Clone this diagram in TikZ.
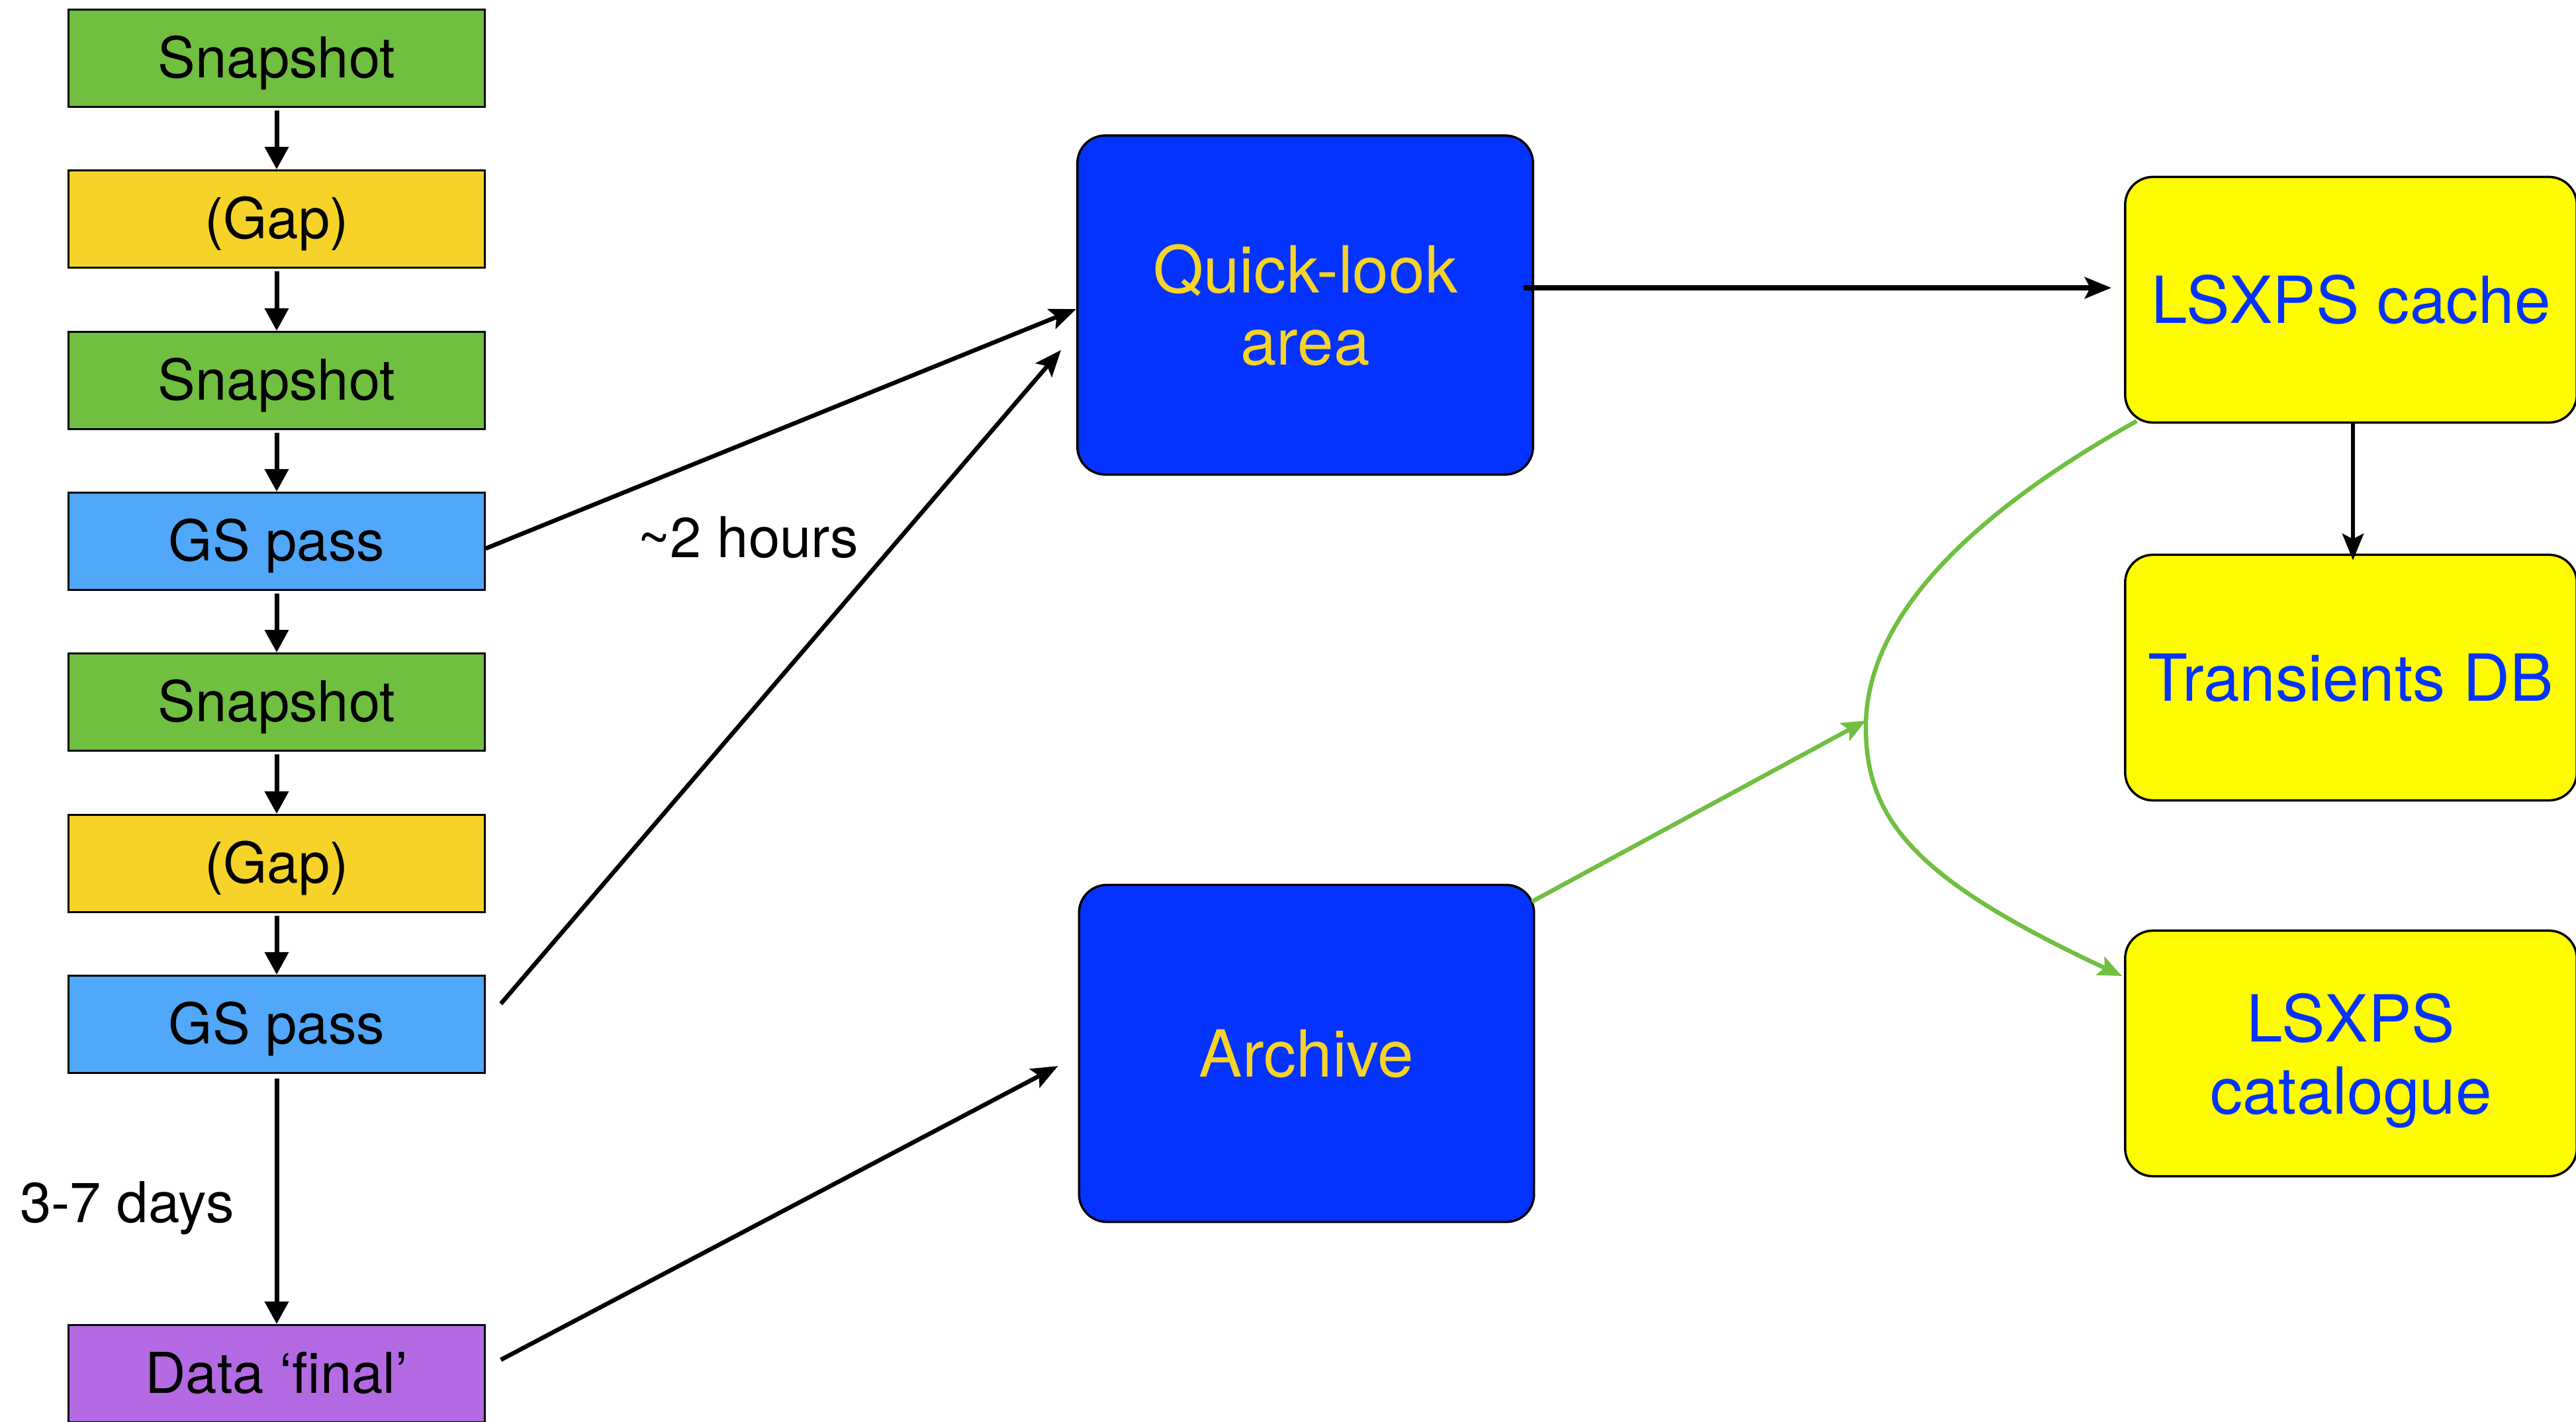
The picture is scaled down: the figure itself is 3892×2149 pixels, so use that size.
\documentclass[tikz,border=0pt]{standalone}
\usepackage{fontspec}
\setmainfont{TeX Gyre Heros}
\usetikzlibrary{arrows.meta,calc}
\definecolor{kgreen}{HTML}{70BF41}
\definecolor{kgold}{HTML}{F5D328}
\definecolor{ksky}{HTML}{51A7F9}
\definecolor{kviolet}{HTML}{B36AE2}
\definecolor{kblue}{HTML}{0433FF}
\definecolor{kyellow}{HTML}{FFFB00}
\begin{document}
\begin{tikzpicture}[x=0.01cm,y=-0.01cm,
  stagebox/.style={draw=black, line width=0.03cm, minimum width=6.28cm,
    minimum height=1.47cm, inner sep=0pt, text height=16.9pt, text depth=0pt,
    font=\fontsize{24.2pt}{29pt}\selectfont},
  storebox/.style={draw=black, line width=0.035cm, rounded corners=0.42cm,
    fill=kblue, text=kgold, align=center, inner sep=0pt,
    font=\fontsize{27.9pt}{31pt}\selectfont},
  productbox/.style={draw=black, line width=0.035cm, rounded corners=0.42cm,
    fill=kyellow, text=kblue, align=center, inner sep=0pt,
    minimum width=6.82cm, minimum height=3.71cm,
    font=\fontsize{27.9pt}{31pt}\selectfont},
  stepline/.style={-{Triangle[length=0.34cm,width=0.35cm]}, line width=0.07cm,
    shorten <=0.04cm},
  feedline/.style={-{Stealth[length=0.4cm,width=0.32cm,inset=0.08cm]},
    line width=0.065cm},
  greenline/.style={draw=kgreen, -{Stealth[length=0.36cm,width=0.3cm,inset=0.07cm]},
    line width=0.065cm},
  note/.style={font=\fontsize{24.2pt}{29pt}\selectfont}]
\useasboundingbox (0,0) rectangle (3892,2149);

% observation sequence
\node[stagebox, fill=kgreen]  (snap1) at (418,88)   {Snapshot};
\node[stagebox, fill=kgold]   (gap1)  at (418,331)  {(Gap)};
\node[stagebox, fill=kgreen]  (snap2) at (418,575)  {Snapshot};
\node[stagebox, fill=ksky]    (gs1)   at (418,818)  {GS pass};
\node[stagebox, fill=kgreen]  (snap3) at (418,1061) {Snapshot};
\node[stagebox, fill=kgold]   (gap2)  at (418,1305) {(Gap)};
\node[stagebox, fill=ksky]    (gs2)   at (418,1548) {GS pass};
\node[stagebox, fill=kviolet] (final) at (418,2076) {Data ‘final’};

% data stores
\node[storebox, minimum width=6.88cm, minimum height=5.12cm] (quick) at (1972,461) {Quick-look\\area};
\node[storebox, minimum width=6.87cm, minimum height=5.09cm] (archive) at (1974,1592) {Archive};

% products
\node[productbox] (cache)      at (3552,453)  {LSXPS cache};
\node[productbox] (transients) at (3552,1024) {Transients DB};
\node[productbox, text depth=0pt] (catalogue)  at (3552,1592) {LSXPS\\catalogue};

% sequence arrows
\draw[stepline] (snap1) -- (gap1);
\draw[stepline] (gap1) -- (snap2);
\draw[stepline] (snap2) -- (gs1);
\draw[stepline] (gs1) -- (snap3);
\draw[stepline] (snap3) -- (gap2);
\draw[stepline] (gap2) -- (gs2);
\draw[stepline, shorten <=0.07cm] (gs2) -- (final);

% transfers to the stores
\draw[feedline] ($(gs1.east)+(0,11)$) -- ($(quick.west)+(0,6)$);
\draw[feedline] ($(gs2.east)+(23,-31)$) -- ($(quick.west)+(-23,68)$);
\draw[feedline] ($(final.east)+(23,-21)$) -- ($(archive.west)+(-30,19)$);
\draw[feedline, line width=0.08cm] ($(quick.east)+(-16,-26)$) -- ($(cache.west)+(-19,-18)$);
\draw[feedline] ($(cache.south)+(3,0)$) -- ($(transients.north)+(3,10)$);

% archive and cache feed the catalogue
\coordinate (merge) at (2819,1099);
\draw[greenline] ($(archive.north east)+(-5,27)$) -- ($(merge)+(0,-10)$);
\draw[greenline] ($(cache.south west)+(19,-4)$) .. controls (2956,789) and (2819,944) .. (merge)
  .. controls (2819,1243) and (2900,1332) .. ($(catalogue.west)+(-3,-117)$);

% timing labels
\node[note] (hours) at (1130,812) {\textasciitilde 2 hours};
\node[note, anchor=base] (days) at (192,1847) {3-7 days};
\end{tikzpicture}
\end{document}
